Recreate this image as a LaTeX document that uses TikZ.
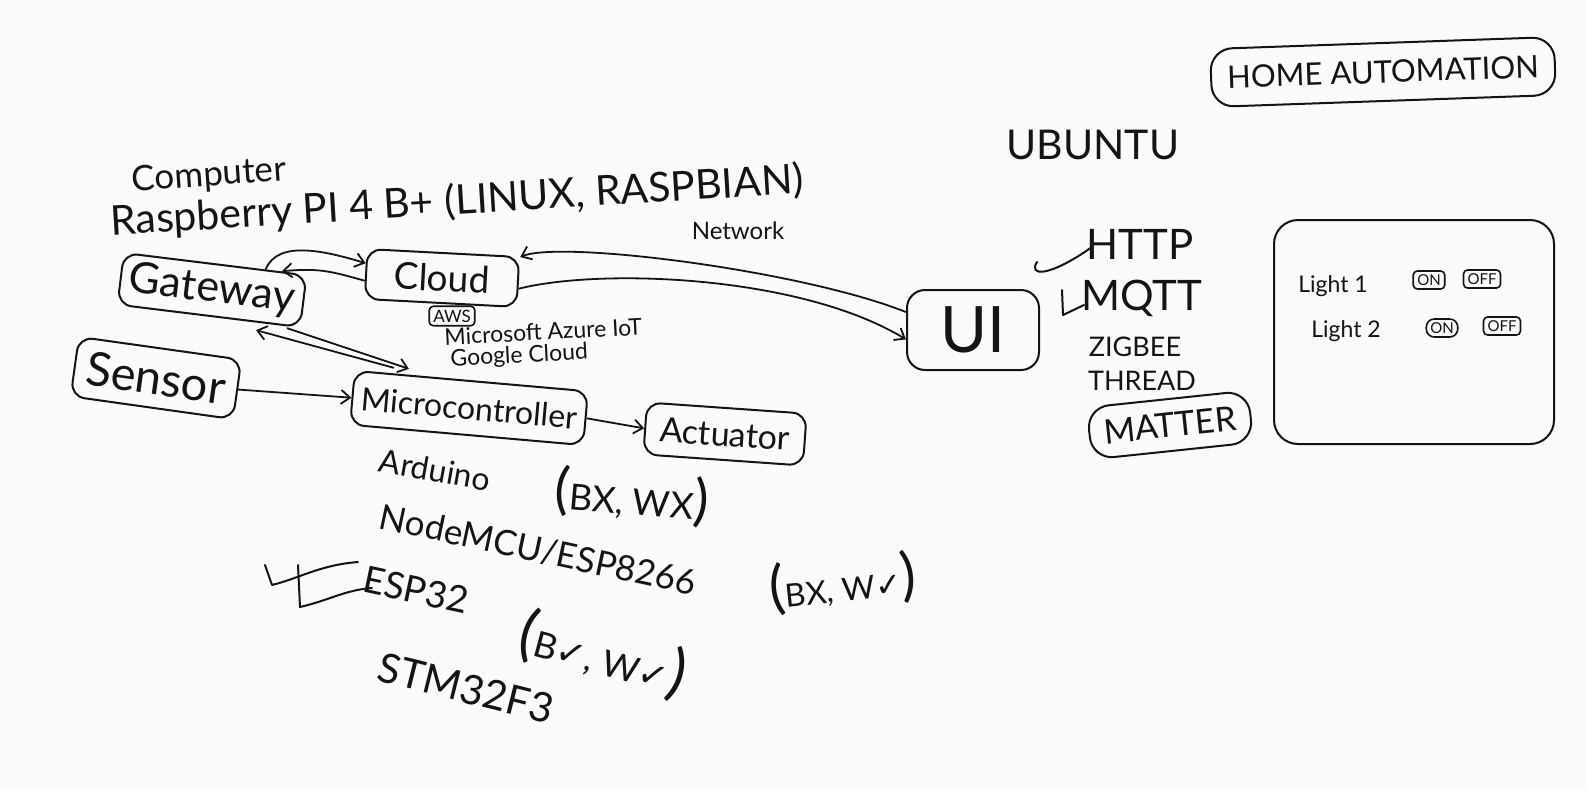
\documentclass[tikz,border=0pt]{standalone}
\usepackage{fontspec}
\setmainfont{Lato}
\newfontfamily\symfont{DejaVu Sans}
\usetikzlibrary{arrows.meta,calc}
\definecolor{ink}{HTML}{141414}
\definecolor{board}{HTML}{FAFAFA}
\newcommand{\ck}{{\symfont ✓}}
\newcommand{\bigp}[2]{{\fontsize{#1}{#1}\selectfont #2}}
\begin{document}
\begin{tikzpicture}[x=1pt,y=-1pt,
  every node/.style={text=ink},
  hbox/.style={draw=ink, line width=2pt, rounded corners=14pt, inner sep=0pt, align=center},
  sbox/.style={draw=ink, line width=1.6pt, rounded corners=4pt, inner xsep=4pt, inner ysep=3.5pt, font=\fontsize{15}{17}\selectfont},
  arr/.style={draw=ink, line width=1.8pt, -{Straight Barb[length=9pt,width=14pt,line width=1.8pt]}},
  hand/.style={draw=ink, line width=2pt, line cap=round, line join=round},
  fs/.style={font=\fontsize{#1}{#1}\selectfont}
]
\useasboundingbox[fill=board] (0,0) rectangle (1586,788);

% title
\node[hbox, minimum width=344pt, minimum height=58pt, rotate=2, rounded corners=22pt, fs=31] (title) at (1383,72) {HOME AUTOMATION};

% main blocks
\node[hbox, minimum width=184pt, minimum height=52pt, rotate=-7, fs=43] (gateway) at (212,290) {Gateway};
\node[hbox, minimum width=152pt, minimum height=50pt, rotate=-3, fs=37] (cloud) at (442,278) {Cloud};
\node[hbox, minimum width=164pt, minimum height=60pt, rotate=-8, fs=47] (sensor) at (156,378) {Sensor};
\node[hbox, minimum width=234pt, minimum height=54pt, rotate=-5, fs=32] (micro) at (469,408) {Microcontroller};
\node[hbox, minimum width=160pt, minimum height=52pt, rotate=-4, fs=34] (actuator) at (725,434) {Actuator};
\node[hbox, minimum width=132pt, minimum height=80pt, rounded corners=18pt, fs=64] (ui) at (973,330) {UI};
\node[hbox, minimum width=162pt, minimum height=52pt, rotate=6, rounded corners=22pt, fs=34] (matter) at (1170,425) {MATTER};

% labels
\node[fs=35, rotate=4] (computer) at (209,176) {Computer};
\node[fs=41, rotate=3.5] (rasp) at (457,202) {Raspberry PI 4 B+ (LINUX, RASPBIAN)};
\node[fs=24] (network) at (738,231) {Network};
\node[fs=41] (ubuntu) at (1093,145) {UBUNTU};
\node[fs=42] (http) at (1140,244) {HTTP};
\node[fs=42] (mqtt) at (1142,298) {MQTT};
\node[fs=27] (zigbee) at (1135,347) {ZIGBEE};
\node[fs=27] (thread) at (1142,381) {THREAD};

% cloud providers
\node[sbox, font=\fontsize{17}{19}\selectfont] (aws) at (452,316) {AWS};
\node[fs=23, rotate=3, anchor=west] (azure) at (441,337) {Microsoft Azure IoT};
\node[fs=23, rotate=3, anchor=west] (google) at (447,360) {Google Cloud};

% microcontroller list
\node[fs=32, rotate=-10] (arduino) at (435,470) {Arduino};
\node[fs=36, rotate=-5] (bxwx) at (632,497) {\bigp{56}{(}BX, WX\bigp{56}{)}};
\node[fs=35, rotate=-12] (nodemcu) at (538,550) {NodeMCU/ESP8266};
\node[fs=32, rotate=6] (bxwv) at (843,583) {\bigp{58}{(}BX, W\ck\bigp{58}{)}};
\node[fs=37, rotate=-12] (esp32) at (416,590) {ESP32};
\node[fs=36, rotate=-15] (bvwv) at (603,655) {\bigp{62}{(}B\ck, W\ck\bigp{62}{)}};
\node[fs=41, rotate=-14] (stm) at (466,688) {STM32F3};

% UI panel
\node[hbox, minimum width=280pt, minimum height=224pt, rounded corners=24pt] (panel) at (1414,332) {};
\node[fs=23] (light1) at (1333,286) {Light 1};
\node[sbox] (on1) at (1429,280) {ON};
\node[sbox] (off1) at (1482,279) {OFF};
\node[fs=23] (light2) at (1346,331) {Light 2};
\node[sbox, rounded corners=8pt] (on2) at (1442,328) {ON};
\node[sbox] (off2) at (1502,326) {OFF};

% connectors
\draw[arr] (gateway.28) .. controls +(12,-30) and +(-40,-12) .. (cloud.172);
\draw[arr] (cloud.185) .. controls +(-30,-8) and +(40,-4) .. (gateway.22);
\draw[arr] ($(micro.north west)+(40,-2)$) -- ($(gateway.south east)+(-45,2)$);
\draw[arr] ($(gateway.south east)+(-14,0)$) -- ($(micro.north west)+(55,-1)$);
\draw[arr] (sensor.east) -- (micro.west);
\draw[arr] (micro.east) -- (actuator.west);
\draw[arr] (ui.165) .. controls (800,270) and (560,240) .. (cloud.18);
\draw[arr] (cloud.-5) .. controls (600,268) and (800,275) .. (ui.188);

% hand-drawn check marks before HTTP and MQTT
\draw[hand] (1037,262) .. controls (1028,276) and (1048,278) .. (1092,247);
\draw[hand] (1062,290) -- (1063,315) -- (1084,305);
% marker before ESP32
\draw[hand] (265,565) -- (272,585) .. controls (300,578) and (320,565) .. (358,562);
\draw[hand] (298,565) -- (300,607) .. controls (330,600) and (345,590) .. (372,588);
\end{tikzpicture}
\end{document}
